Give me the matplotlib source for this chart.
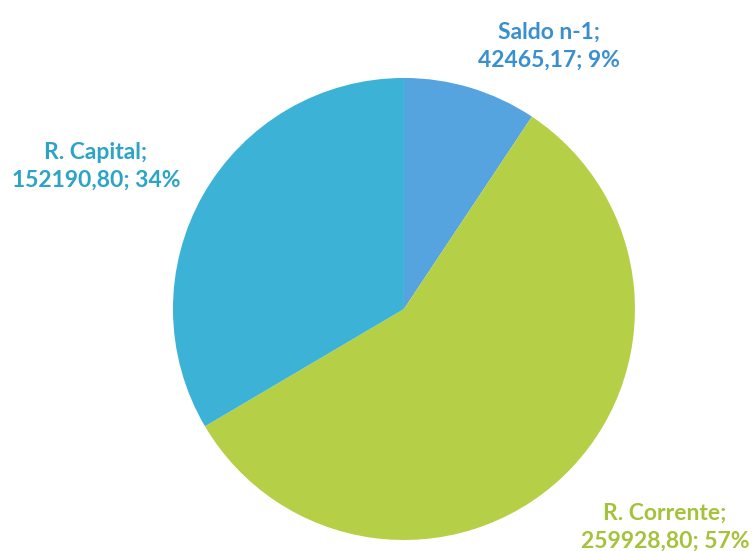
import matplotlib.pyplot as plt

labels = ['Saldo n-1', 'R. Corrente', 'R. Capital']
values = [42465.17, 259928.80, 152190.80]
percents = ['9%', '57%', '34%']

slice_colors = ['#55A3DF', '#B5CF47', '#3CB3D6']
text_colors = ['#3A90CF', '#A4C23A', '#2CA4C6']

fig = plt.figure(figsize=(7.54, 5.51), dpi=100)
ax = fig.add_axes([0.2294, 0.02, 0.6127, 0.8385])

ax.pie(values, colors=slice_colors, startangle=90, counterclock=False,
       radius=1.0, wedgeprops=dict(linewidth=0))
ax.set_xlim(-1, 1)
ax.set_ylim(-1, 1)
ax.set_aspect('auto')
ax.axis('off')

def fmt(v):
    return f"{v:.2f}".replace('.', ',')

# label spots, in pie units
spots = [(0.628, 1.138), (1.13, -0.944), (-1.333, 0.619)]
for lab, v, p, c, (x, y) in zip(labels, values, percents, text_colors, spots):
    ax.text(x, y, f"{lab};\n{fmt(v)}; {p}", color=c, ha='center', va='center',
            fontsize=16.5, fontfamily='Lato', fontweight='bold',
            linespacing=1.4, clip_on=False)

fig.savefig('out.png', dpi=100)
